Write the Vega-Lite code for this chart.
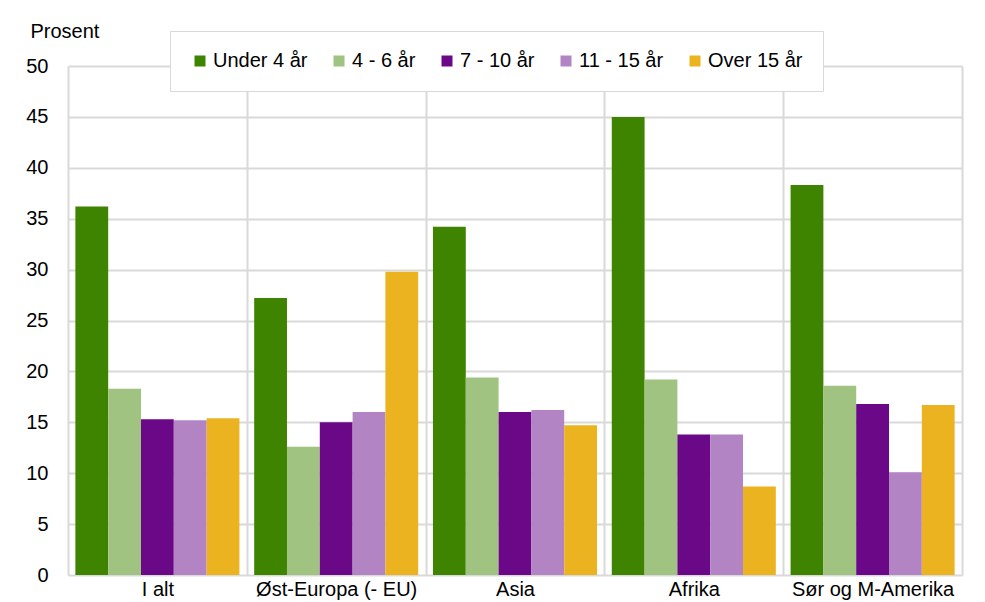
{
  "$schema": "https://vega.github.io/schema/vega-lite/v6.json",
  "width": 894,
  "height": 509,
  "autosize": {"type": "none"},
  "padding": {"left": 68, "top": 66, "right": 23, "bottom": 27},
  "background": "white",
  "config": {
    "view": {"stroke": null},
    "font": "Liberation Sans"
  },
  "data": {
    "values": [
      {"region": "I alt", "group": "Under 4 år", "value": 36.2},
      {"region": "I alt", "group": "4 - 6 år", "value": 18.3},
      {"region": "I alt", "group": "7 - 10 år", "value": 15.3},
      {"region": "I alt", "group": "11 - 15 år", "value": 15.2},
      {"region": "I alt", "group": "Over 15 år", "value": 15.4},
      {"region": "Øst-Europa (- EU)", "group": "Under 4 år", "value": 27.2},
      {"region": "Øst-Europa (- EU)", "group": "4 - 6 år", "value": 12.6},
      {"region": "Øst-Europa (- EU)", "group": "7 - 10 år", "value": 15.0},
      {"region": "Øst-Europa (- EU)", "group": "11 - 15 år", "value": 16.0},
      {"region": "Øst-Europa (- EU)", "group": "Over 15 år", "value": 29.8},
      {"region": "Asia", "group": "Under 4 år", "value": 34.2},
      {"region": "Asia", "group": "4 - 6 år", "value": 19.4},
      {"region": "Asia", "group": "7 - 10 år", "value": 16.0},
      {"region": "Asia", "group": "11 - 15 år", "value": 16.2},
      {"region": "Asia", "group": "Over 15 år", "value": 14.7},
      {"region": "Afrika", "group": "Under 4 år", "value": 45.0},
      {"region": "Afrika", "group": "4 - 6 år", "value": 19.2},
      {"region": "Afrika", "group": "7 - 10 år", "value": 13.8},
      {"region": "Afrika", "group": "11 - 15 år", "value": 13.8},
      {"region": "Afrika", "group": "Over 15 år", "value": 8.7},
      {"region": "Sør og M-Amerika", "group": "Under 4 år", "value": 38.3},
      {"region": "Sør og M-Amerika", "group": "4 - 6 år", "value": 18.6},
      {"region": "Sør og M-Amerika", "group": "7 - 10 år", "value": 16.8},
      {"region": "Sør og M-Amerika", "group": "11 - 15 år", "value": 10.1},
      {"region": "Sør og M-Amerika", "group": "Over 15 år", "value": 16.7}
    ]
  },
  "mark": {"type": "bar"},
  "encoding": {
    "x": {
      "field": "region",
      "type": "nominal",
      "sort": ["I alt", "Øst-Europa (- EU)", "Asia", "Afrika", "Sør og M-Amerika"],
      "scale": {"paddingInner": 0, "paddingOuter": 0},
      "axis": {
        "title": null,
        "labelAngle": 0,
        "labelFontSize": 20,
        "labelColor": "#000000",
        "labelPadding": 4,
        "ticks": false,
        "domain": false,
        "grid": true,
        "tickBand": "extent",
        "gridColor": "#d9d9d9",
        "gridWidth": 2
      }
    },
    "xOffset": {
      "field": "group",
      "type": "nominal",
      "scale": {"domain": ["Under 4 år", "4 - 6 år", "7 - 10 år", "11 - 15 år", "Over 15 år"], "paddingInner": 0, "paddingOuter": 0.225}
    },
    "y": {
      "field": "value",
      "type": "quantitative",
      "scale": {"domain": [0, 50], "nice": false},
      "axis": {
        "title": "Prosent",
        "titleAngle": 0,
        "titleAlign": "left",
        "titleBaseline": "alphabetic",
        "titleX": -38,
        "titleY": -29,
        "titleFontSize": 20,
        "titleFontWeight": "normal",
        "titleColor": "#000000",
        "values": [0, 5, 10, 15, 20, 25, 30, 35, 40, 45, 50],
        "labelFontSize": 20,
        "labelColor": "#000000",
        "labelPadding": 20,
        "ticks": false,
        "domain": false,
        "grid": true,
        "gridColor": "#d9d9d9",
        "gridWidth": 2
      }
    },
    "color": {
      "field": "group",
      "type": "nominal",
      "scale": {
        "domain": ["Under 4 år", "4 - 6 år", "7 - 10 år", "11 - 15 år", "Over 15 år"],
        "range": ["#3e8400", "#a0c382", "#6a0888", "#b384c4", "#ebb320"]
      },
      "legend": {
        "title": null,
        "orient": "none",
        "direction": "horizontal",
        "legendX": 102,
        "legendY": -35,
        "padding": 20,
        "fillColor": "white",
        "strokeColor": "#d9d9d9",
        "symbolType": "square",
        "symbolSize": 121,
        "symbolStrokeWidth": 0,
        "labelFontSize": 20,
        "labelColor": "#000000",
        "labelOffset": 3,
        "columnPadding": 21
      }
    }
  }
}
